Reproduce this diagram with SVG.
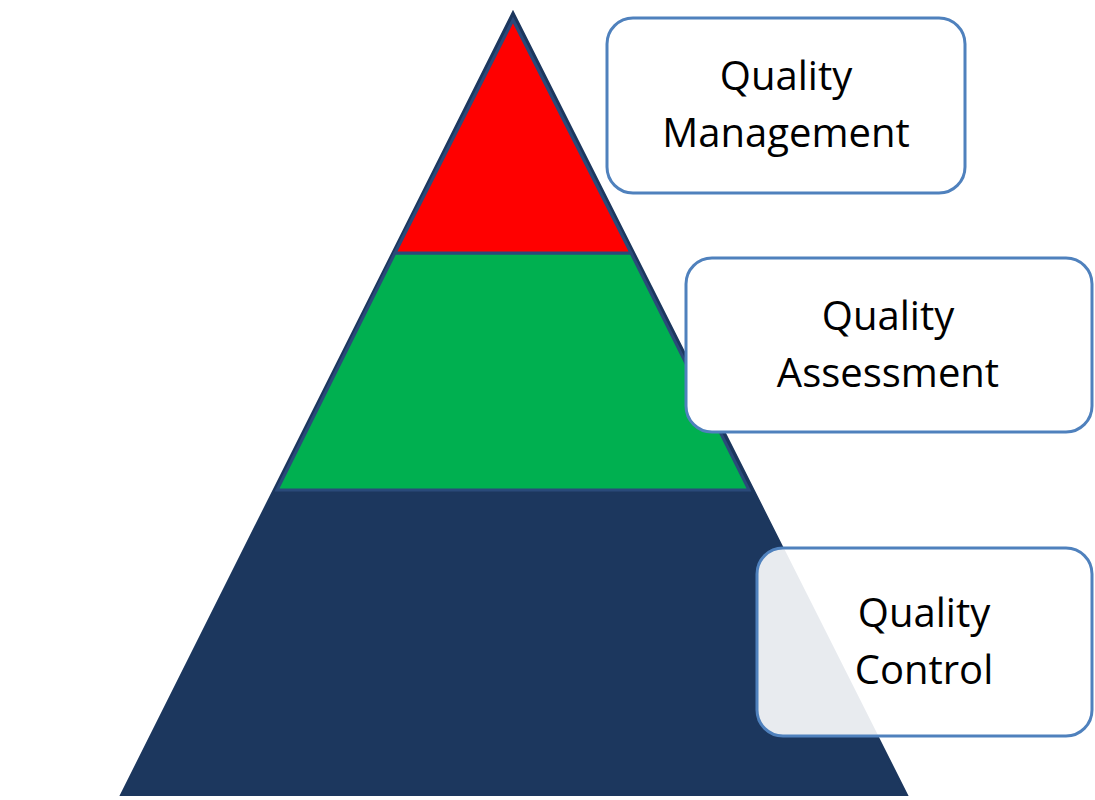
<svg xmlns="http://www.w3.org/2000/svg" width="1095" height="800" viewBox="0 0 1095 800">
<style>
.box{stroke:#4f81bd;stroke-width:3;}
.t{font-family:"Open Sans","Liberation Sans",sans-serif;font-size:40px;fill:#000;text-anchor:middle;}
.lvl{stroke:#2a4a7a;stroke-width:3;}
</style>
<rect width="1095" height="800" fill="#fff"/>
<g id="pyramid">
<polygon id="base" points="513,12 121,795 907,795" fill="#1c375e" stroke="#1c375e" stroke-width="2"/>
<polygon id="mid" points="395,253 631,253 749,490 277,490" fill="#00b050" class="lvl"/>
<polygon id="top" points="513,20 631,253 395,253" fill="#ff0000" class="lvl"/>
</g>
<g id="qm">
<rect class="box" x="607" y="18" width="358" height="175" rx="26" fill="#fff"/>
<text class="t" x="786" y="90">Quality</text>
<text class="t" x="786" y="147">Management</text>
</g>
<g id="qa">
<rect class="box" x="686" y="258" width="406" height="174" rx="26" fill="#fff"/>
<text class="t" x="888" y="330">Quality</text>
<text class="t" x="888" y="387">Assessment</text>
</g>
<g id="qc">
<rect class="box" x="757" y="548" width="335" height="188" rx="26" fill="#fff" fill-opacity="0.9"/>
<text class="t" x="924" y="627">Quality</text>
<text class="t" x="924" y="684">Control</text>
</g>
<g id="connectors"/>
</svg>
